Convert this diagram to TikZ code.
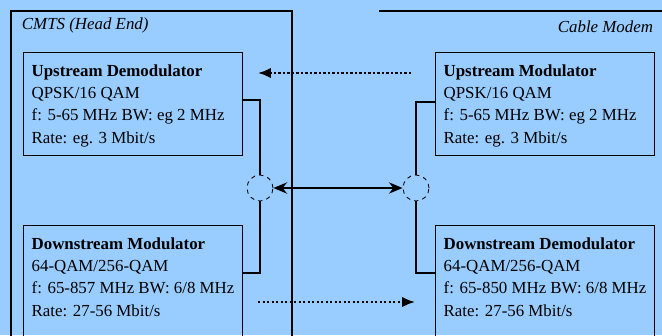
\documentclass[tikz,border=0pt]{standalone}
\usepackage{fontspec}
\setmainfont{Liberation Serif}
\usetikzlibrary{arrows.meta, positioning, calc}

\definecolor{bgblue}{HTML}{99CCFF}
\newcommand{\unittext}[5]{\parbox[t][#1][t]{5.075cm}{\textbf{#2}\\#3\\#4\\#5}}

\begin{document}
\begin{tikzpicture}[x=0.025cm, y=-0.025cm,
		every node/.style={font=\fontsize{12}{15.8}\selectfont},
		framebox/.style={line width=0.8pt},
		unitbox/.style={draw, line width=0.9pt, anchor=north west, inner xsep=0.2cm, inner ysep=0.3cm},
		splitter/.style={circle, draw, dashed, line width=0.6pt, minimum size=0.65cm, inner sep=0pt},
		link/.style={line width=1.4pt},
		signal/.style={line width=1.6pt, dash pattern=on 1.6pt off 1.6pt, -{Latex[length=3.2mm, width=2.6mm]}}]
		
		% Background and page size
		\fill[bgblue] (0,0) rectangle (662,335);
		\useasboundingbox (0,0) rectangle (662,335);
		
		% Head end and modem frames
		\draw[framebox] (11,360) -- (11,11) -- (292,11) -- (292,360);
		\draw[framebox] (379,11) -- (680,11);
		\node[anchor=west, font=\fontsize{12}{14}\itshape] (cmtslabel) at (17,25) {CMTS (Head End)};
		\node[anchor=east, font=\fontsize{12}{14}\itshape] (cmlabel) at (658,27) {Cable Modem};
		
		% Units
		\node[unitbox] (usdemod) at (23,52)
		{\unittext{1.975cm}{Upstream Demodulator}{QPSK/16 QAM}{f: 5-65 MHz BW: eg 2 MHz}{Rate: eg. 3 Mbit/s}};
		\node[unitbox] (dsmod) at (23,225)
		{\unittext{2.4cm}{Downstream Modulator}{64-QAM/256-QAM}{f: 65-857 MHz BW: 6/8 MHz}{Rate: 27-56 Mbit/s}};
		\node[unitbox] (usmod) at (435,52)
		{\unittext{1.975cm}{Upstream Modulator}{QPSK/16 QAM}{f: 5-65 MHz BW: eg 2 MHz}{Rate: eg. 3 Mbit/s}};
		\node[unitbox] (dsdemod) at (435,225)
		{\unittext{2.4cm}{Downstream Demodulator}{64-QAM/256-QAM}{f: 65-850 MHz BW: 6/8 MHz}{Rate: 27-56 Mbit/s}};
		
		% Splitters
		\node[splitter] (lsplit) at (260,188) {};
		\node[splitter] (rsplit) at (416,188) {};
		
		% Wiring
		\draw[link] ([shift={(0,48)}]usdemod.north east) -| (lsplit.north);
		\draw[link] (lsplit.south) |- ([shift={(0,48)}]dsmod.north east);
		\draw[link] ([shift={(0,50)}]usmod.north west) -| (rsplit.north);
		\draw[link] (rsplit.south) |- ([shift={(0,48)}]dsdemod.north west);
		
		% Cable
		\draw[line width=2pt, {Stealth[length=3.4mm, width=2.8mm]}-{Stealth[length=3.4mm, width=2.8mm]}] (lsplit.east) -- (rsplit.west);
		
		% Up and down stream
		\coordinate (upfrom) at (411,73);
		\coordinate (upto) at (258,73);
		\coordinate (downfrom) at (258,302);
		\coordinate (downto) at (415,302);
		\draw[signal] (upfrom) -- (upto);
		\draw[signal] (downfrom) -- (downto);
		
	\end{tikzpicture}
\end{document}
